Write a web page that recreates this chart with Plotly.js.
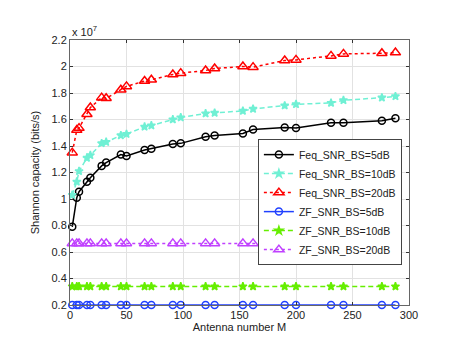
<!DOCTYPE html>
<html>
<head>
<meta charset="utf-8">
<script src="https://cdn.plot.ly/plotly-3.0.1.min.js"></script>
<style>
  html, body { margin: 0; padding: 0; background: #fff; }
  #chart { width: 463px; height: 355px; }
</style>
</head>
<body>
<div id="chart"></div>
<script>
// antenna counts on the x axis
const antennaM = [2, 6, 8, 15, 18, 28, 32, 45, 50, 66, 72, 91, 98, 120, 128, 153, 162, 190, 200, 231, 242, 276, 288];

// capacities in units of 1e7 bits/s
const feq5 = [0.79, 1.01, 1.055, 1.13, 1.16, 1.25, 1.275, 1.335, 1.325, 1.37, 1.38, 1.415, 1.42, 1.47, 1.48, 1.495, 1.525, 1.54, 1.535, 1.575, 1.575, 1.59, 1.61];
const feq10 = [1.03, 1.13, 1.21, 1.31, 1.33, 1.42, 1.43, 1.48, 1.49, 1.545, 1.555, 1.6, 1.615, 1.645, 1.65, 1.665, 1.68, 1.705, 1.715, 1.725, 1.745, 1.765, 1.775];
const feq20 = [1.35, 1.52, 1.535, 1.64, 1.69, 1.765, 1.76, 1.825, 1.85, 1.89, 1.9, 1.94, 1.95, 1.97, 1.985, 2.0, 1.995, 2.045, 2.05, 2.08, 2.095, 2.1, 2.105];
const zf5 = [0.2, 0.2, 0.2, 0.2, 0.2, 0.2, 0.2, 0.2, 0.2, 0.2, 0.2, 0.2, 0.2, 0.2, 0.2, 0.2, 0.2, 0.2, 0.2, 0.2, 0.2, 0.2, 0.2];
const zf10 = [0.34, 0.34, 0.34, 0.34, 0.34, 0.34, 0.34, 0.34, 0.34, 0.34, 0.34, 0.34, 0.34, 0.34, 0.34, 0.34, 0.34, 0.34, 0.34, 0.34, 0.34, 0.34, 0.34];
const zf20 = [0.665, 0.665, 0.665, 0.665, 0.665, 0.665, 0.665, 0.665, 0.665, 0.665, 0.665, 0.665, 0.665, 0.665, 0.665, 0.665, 0.665, 0.665, 0.665, 0.665, 0.665, 0.665, 0.665];

const seriesNames = ['Feq_SNR_BS=5dB', 'Feq_SNR_BS=10dB', 'Feq_SNR_BS=20dB', 'ZF_SNR_BS=5dB', 'ZF_SNR_BS=10dB', 'ZF_SNR_BS=20dB'];

function makeTrace(y, name, color, dash, symbol, size) {
    return {
        x: antennaM,
        y: y,
        name: name,
        type: 'scatter',
        mode: 'lines+markers',
        cliponaxis: false,
        line: { color: color, width: 1.5, dash: dash },
        marker: {
            symbol: symbol,
            size: size,
            color: color,
            line: { color: color, width: 1.5 }
        }
    };
}

const dashed = '5px,3px';

const traces = [
    makeTrace(feq5, seriesNames[0], '#000000', 'solid', 'circle-open', 7),
    makeTrace(feq10, seriesNames[1], '#70f0d4', dashed, 'star', 6),
    makeTrace(feq20, seriesNames[2], '#ff0000', 'dot', 'triangle-up-open', 9),
    makeTrace(zf5, seriesNames[3], '#2040ff', 'solid', 'circle-open', 7),
    makeTrace(zf10, seriesNames[4], '#66ee00', dashed, 'star', 6),
    makeTrace(zf20, seriesNames[5], '#c040ff', 'dot', 'triangle-up-open', 9)
];

const axisCommon = {
    showline: true,
    linecolor: '#666',
    linewidth: 1,
    mirror: 'ticks',
    ticks: 'inside',
    ticklen: 3,
    tickcolor: '#333',
    showgrid: true,
    gridcolor: '#e2e2e2',
    gridwidth: 1,
    zeroline: false,
    tickfont: { size: 11, color: '#222' }
};

const layout = {
    width: 463,
    height: 355,
    margin: { l: 70, r: 54, t: 40, b: 50 },
    paper_bgcolor: '#fff',
    plot_bgcolor: '#fff',
    font: { family: 'Liberation Sans, Arial, sans-serif', size: 11, color: '#222' },
    xaxis: Object.assign({}, axisCommon, {
        range: [0, 300],
        dtick: 50,
        tick0: 0,
        title: { text: 'Antenna number M', font: { size: 11 }, standoff: 2 }
    }),
    yaxis: Object.assign({}, axisCommon, {
        range: [0.2, 2.2],
        dtick: 0.2,
        tick0: 0.2,
        title: { text: 'Shannon capacity (bits/s)', font: { size: 11 }, standoff: 9 }
    }),
    showlegend: true,
    legend: {
        x: 0.979,
        y: 0.626,
        xanchor: 'right',
        yanchor: 'top',
        bgcolor: '#fff',
        bordercolor: '#444',
        borderwidth: 1,
        tracegroupgap: 0,
        font: { size: 10.5, color: '#222' }
    },
    annotations: [{
        text: 'x 10<sup>7</sup>',
        xref: 'paper',
        yref: 'paper',
        x: 0,
        y: 1,
        xanchor: 'left',
        yanchor: 'bottom',
        showarrow: false,
        font: { size: 11, color: '#222' }
    }]
};

Plotly.newPlot('chart', traces, layout, { displayModeBar: false, staticPlot: true });
</script>
</body>
</html>
